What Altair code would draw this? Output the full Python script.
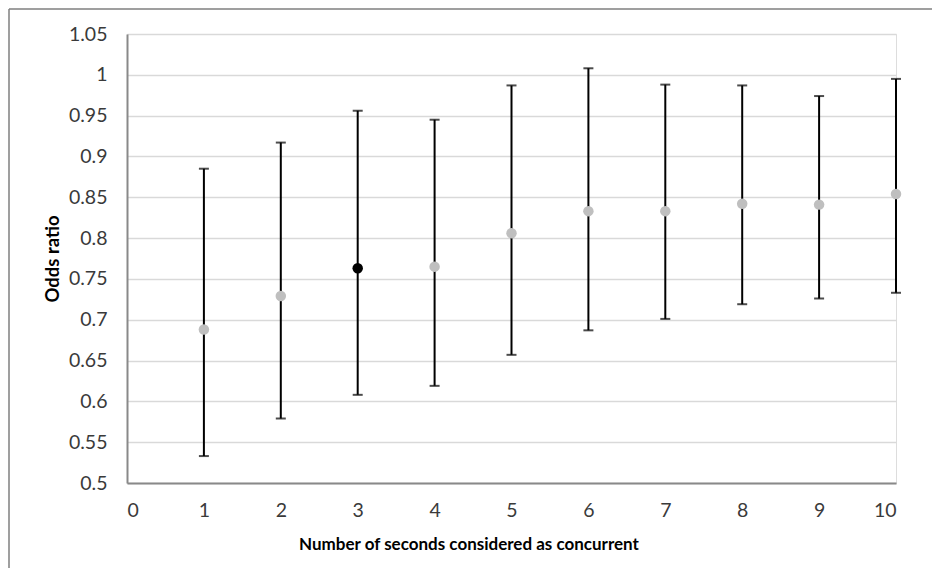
import altair as alt
import pandas as pd

seconds = [1, 2, 3, 4, 5, 6, 7, 8, 9, 10]
odds_ratio = [0.688, 0.729, 0.763, 0.765, 0.806, 0.833, 0.833, 0.842, 0.841, 0.854]
ci_upper = [0.885, 0.917, 0.956, 0.945, 0.987, 1.008, 0.988, 0.987, 0.974, 0.995]
ci_lower = [0.533, 0.579, 0.608, 0.619, 0.657, 0.687, 0.701, 0.719, 0.726, 0.733]
highlight = ["no", "no", "yes", "no", "no", "no", "no", "no", "no", "no"]

y_ticks = [0.5, 0.55, 0.6, 0.65, 0.7, 0.75, 0.8, 0.85, 0.9, 0.95, 1.0, 1.05]
x_ticks = [0, 1, 2, 3, 4, 5, 6, 7, 8, 9, 10]

df = pd.DataFrame({
    "x": seconds,
    "or": odds_ratio,
    "hi": ci_upper,
    "lo": ci_lower,
    "hl": highlight,
})

FONT = "Lato"

xs = alt.Scale(domain=[0, 10], nice=False, zero=False)
ys = alt.Scale(domain=[0.5, 1.05], nice=False, zero=False)

x_axis = alt.Axis(
    values=x_ticks, format="d", grid=False, ticks=False,
    domainColor="#898989", domainWidth=2,
    labelFont=FONT, labelFontSize=19.5, labelColor="#3A3A3A",
    labelPadding=18, labelBaseline="top",
    title="Number of seconds considered as concurrent",
    titleFont=FONT, titleFontSize=17, titleFontWeight="bold", titleColor="#000000",
    titleX=341.5, titleY=66, titleAlign="center", titleBaseline="alphabetic",
)
y_axis = alt.Axis(
    values=y_ticks, format=".2~f", grid=True, ticks=False,
    gridColor="#D9D9D9", gridWidth=1.5,
    domainColor="#898989", domainWidth=2,
    labelFont=FONT, labelFontSize=19.5, labelColor="#3A3A3A",
    labelPadding=20,
    title="Odds ratio",
    titleFont=FONT, titleFontSize=18.5, titleFontWeight="bold", titleColor="#000000",
    titleX=-69, titleY=224.5, titleAlign="center", titleBaseline="alphabetic", titleAngle=270,
)

base = alt.Chart(df)

bars = base.mark_rule(color="#000000", strokeWidth=2).encode(
    x=alt.X("x:Q", scale=xs, axis=x_axis),
    y=alt.Y("lo:Q", scale=ys, axis=y_axis),
    y2="hi:Q",
)
cap_hi = base.mark_tick(color="#000000", orient="horizontal", size=10, thickness=2).encode(
    x=alt.X("x:Q", scale=xs),
    y=alt.Y("hi:Q", scale=ys),
)
cap_lo = base.mark_tick(color="#000000", orient="horizontal", size=10, thickness=2).encode(
    x=alt.X("x:Q", scale=xs),
    y=alt.Y("lo:Q", scale=ys),
)
points = base.mark_circle(size=110, opacity=1).encode(
    x=alt.X("x:Q", scale=xs),
    y=alt.Y("or:Q", scale=ys),
    color=alt.Color("hl:N", scale=alt.Scale(domain=["no", "yes"], range=["#BFBFBF", "#000000"]), legend=None),
)

border_left = alt.Chart(pd.DataFrame({"a": [0]})).mark_rule(color="#7F7F7F", strokeWidth=1.5).encode(
    x=alt.value(-118), y=alt.value(-25), y2=alt.value(560)
)
border_top = alt.Chart(pd.DataFrame({"a": [0]})).mark_rule(color="#7F7F7F", strokeWidth=1.5).encode(
    x=alt.value(-118), x2=alt.value(820), y=alt.value(-25)
)

chart = alt.layer(bars, cap_hi, cap_lo, points, border_left, border_top).properties(
    width=769,
    height=449,
    autosize=alt.AutoSizeParams(type="none"),
    padding={"left": 119, "top": 26, "right": 36, "bottom": 85},
).configure_view(stroke=None).configure(background="#FFFFFF")

chart.save("out.html", embed_options={"renderer": "svg", "actions": False})
